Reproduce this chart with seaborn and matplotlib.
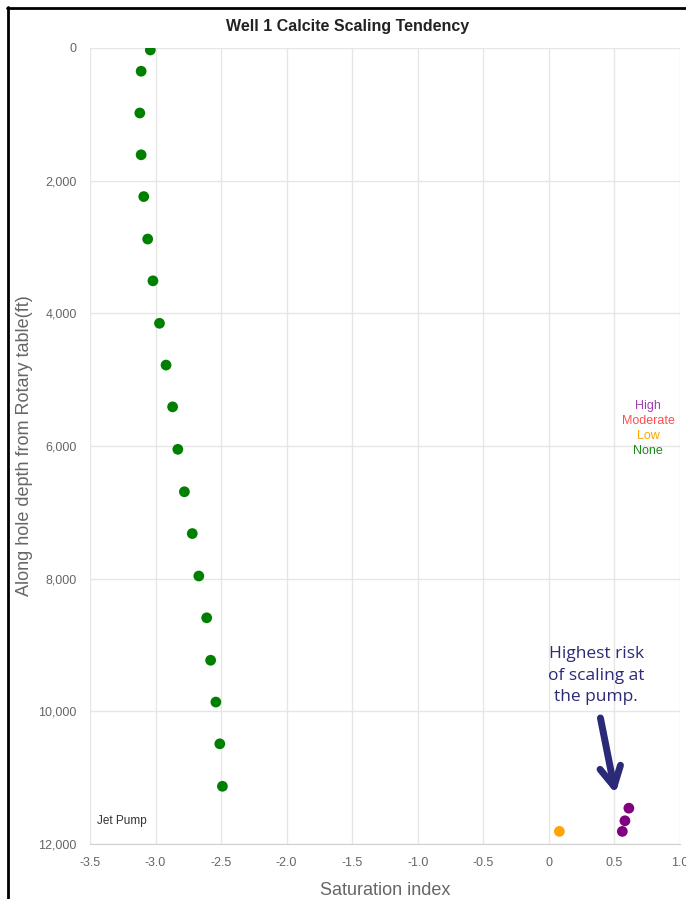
import matplotlib
matplotlib.use("Agg")
import matplotlib.pyplot as plt
import seaborn as sns
import pandas as pd

# Saturation index readings down the well (depth in ft)
depth_ft = [30, 350, 980, 1610, 2240, 2880, 3510, 4150, 4780, 5410,
            6050, 6690, 7320, 7960, 8590, 9230, 9860, 10490, 11130,
            11810, 11460, 11650, 11810]
sat_index = [-3.04, -3.11, -3.12, -3.11, -3.09, -3.06, -3.02, -2.97, -2.92, -2.87,
             -2.83, -2.78, -2.72, -2.67, -2.61, -2.58, -2.54, -2.51, -2.49,
             0.08, 0.61, 0.58, 0.56]
risk = ["None"] * 19 + ["Low", "High", "High", "High"]

risk_levels = ["High", "Moderate", "Low", "None"]
risk_colors = {"High": "#800080", "Moderate": "#ff4d4d", "Low": "#ffa500", "None": "#008000"}
legend_colors = {"High": "#a040b0", "Moderate": "#ff4d4d", "Low": "#ffa500", "None": "#1a8a1a"}

x_ticks = [-3.5, -3.0, -2.5, -2.0, -1.5, -1.0, -0.5, 0, 0.5, 1.0]
y_ticks = [0, 2000, 4000, 6000, 8000, 10000, 12000]

df = pd.DataFrame({"depth": depth_ft, "si": sat_index, "risk": risk})

sns.set_style("white")
plt.rcParams["font.family"] = ["Liberation Sans", "DejaVu Sans"]

fig = plt.figure(figsize=(6.86, 8.99), dpi=100)
ax = fig.add_axes([90 / 686, 55 / 899, 590 / 686, 796 / 899])

sns.scatterplot(data=df, x="si", y="depth", hue="risk", palette=risk_colors,
                s=60, linewidth=0, legend=False, ax=ax, zorder=3)

ax.set_xlim(-3.5, 1.0)
ax.set_ylim(12000, 0)
ax.set_xticks(x_ticks)
ax.set_xticklabels(["0" if v == 0 else f"{v:.1f}" for v in x_ticks])
ax.set_yticks(y_ticks)
ax.set_yticklabels([f"{v:,}" for v in y_ticks])
ax.grid(True, color="#e6e6e6", linewidth=1)
ax.set_axisbelow(True)
for side in ["top", "right", "left"]:
    ax.spines[side].set_visible(False)
ax.spines["bottom"].set_color("#d0d0d0")
ax.tick_params(axis="both", colors="#e0e0e0", labelcolor="#666666", labelsize=9,
               length=6, width=1, direction="out")

ax.set_xlabel("Saturation index", fontsize=13, color="#666666", labelpad=9)
ax.set_ylabel("Along hole depth from Rotary table(ft)", fontsize=13, color="#666666", labelpad=4)
fig.text(348 / 686, 1 - 27 / 899, "Well 1 Calcite Scaling Tendency", fontsize=11.5,
         fontweight="bold", color="#222222", ha="center", va="center")

# risk level key
for i, lvl in enumerate(risk_levels):
    fig.text(648 / 686, 1 - (406 + 15 * i) / 899, lvl, color=legend_colors[lvl],
             fontsize=9, ha="center", va="center")

ax.text(-3.45, 11650, "Jet Pump", fontsize=8.5, color="#333333", va="center")

ax.text(0.36, 9020, "Highest risk\nof scaling at\nthe pump.", fontsize=12.5, color="#2b2a78",
        ha="center", va="top", family="Open Sans", linespacing=1.45)
ax.annotate("", xy=(0.508, 11240), xytext=(0.393, 10100),
            arrowprops=dict(arrowstyle="->,head_length=1.4,head_width=0.75", color="#2b2a78",
                            lw=5, shrinkA=0, shrinkB=0))

# screenshot frame on the left and top
fig.add_artist(plt.Line2D([8 / 686, 8 / 686], [0, 1 - 7 / 899], color="black", lw=2))
fig.add_artist(plt.Line2D([7 / 686, 1], [1 - 8 / 899, 1 - 8 / 899], color="black", lw=2))

fig.savefig("out.png", dpi=100)
